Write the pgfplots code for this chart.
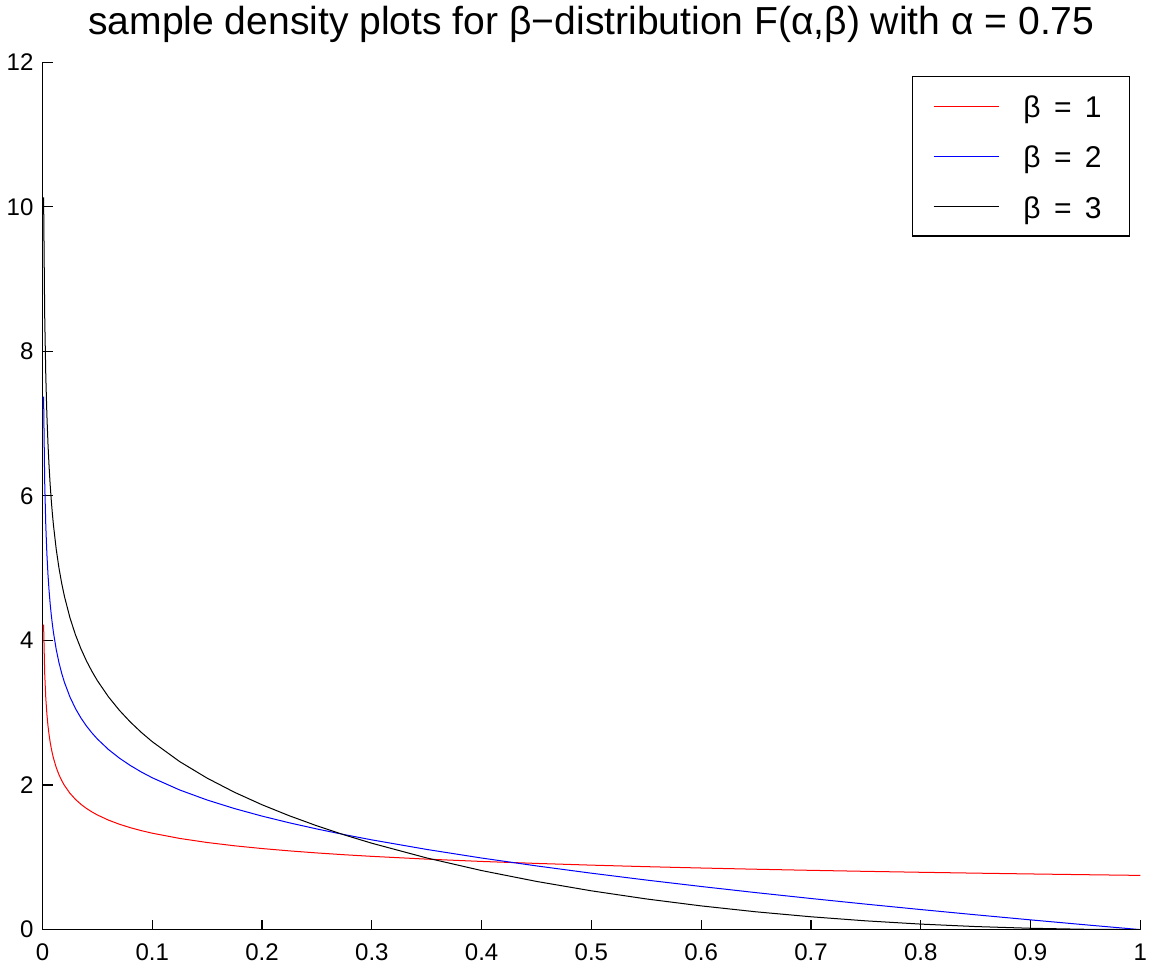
\documentclass[border=0pt]{standalone}
\usepackage{pgfplots}
\pgfplotsset{compat=1.18}
\usepackage{fontspec}
\setmainfont{Liberation Sans}
\definecolor{mred}{rgb}{1,0,0}
\definecolor{mblue}{rgb}{0,0,1}
\definecolor{mblack}{rgb}{0,0,0}
\begin{document}
\begin{tikzpicture}
\begin{axis}[
  width=548pt, height=433pt, scale only axis,
  xmin=0, xmax=1, ymin=0, ymax=12,
  axis x line*=bottom, axis y line*=left,
  axis line style={line width=0.6pt},
  tick align=inside, major tick length=5pt,
  tick style={line width=0.6pt, black},
  xtick={0,0.1,...,1}, ytick={0,2,...,12},
  xticklabels={0,0.1,0.2,0.3,0.4,0.5,0.6,0.7,0.8,0.9,1},
  /pgf/number format/assume math mode=true,
  tick label style={font=\fontsize{12}{14}\selectfont},
  xticklabel style={inner sep=1pt, yshift=-6pt},
  yticklabel style={xshift=-1pt},
  title={sample density plots for β−distribution F(α,β) with α = 0.75},
  title style={font=\fontsize{19.5}{22}\selectfont, yshift=0pt},
  legend style={at={(1,1)}, anchor=north east, xshift=-5pt, yshift=-7pt,
    font=\fontsize{15}{17}\selectfont, line width=0.6pt,
    row sep=7.5pt, inner xsep=5.5pt, inner ysep=6pt,
    nodes={text height=12.5pt, text depth=1pt, inner sep=2pt}},
  legend cell align=left,
  legend image code/.code={\path (-5pt,0pt); \draw[#1, line width=0.5pt] (0pt,0pt) -- (32.5pt,0pt); \path (42.5pt,0pt);},
  every axis plot/.append style={line width=0.5pt},
]
\addplot[color=mred] coordinates {
(0.001,4.2176)(0.002,3.5465)(0.003,3.2047)(0.004,2.9823)(0.005,2.8205)(0.006,2.6948)
(0.007,2.5929)(0.008,2.5078)(0.009,2.4350)(0.01,2.3717)(0.0125,2.2430)
(0.015,2.1431)(0.0175,2.0621)(0.02,1.9943)(0.025,1.8862)(0.03,1.8021)(0.035,1.7340)
(0.04,1.6771)(0.045,1.6284)(0.05,1.5860)(0.06,1.5154)(0.07,1.4581)(0.08,1.4102)(0.09,1.3693)
(0.1,1.3337)(0.125,1.2614)(0.15,1.2052)(0.175,1.1596)(0.2,1.1215)(0.225,1.0890)(0.25,1.0607)
(0.275,1.0357)(0.3,1.0134)(0.35,0.9751)
(0.4,0.9431)(0.45,0.9158)(0.5,0.8919)(0.55,0.8709)(0.6,0.8522)(0.65,0.8353)
(0.7,0.8200)(0.75,0.8060)(0.8,0.7931)(0.85,0.7811)(0.9,0.7700)(0.95,0.7597)(1.0,0.75)
};
\addlegendentry{β\hspace{2.5pt} =\hspace{2.5pt} 1\rule{6.5pt}{0pt}}
\addplot[color=mblue] coordinates {
(0.001,7.3733)(0.002,6.1940)(0.003,5.5914)(0.004,5.1981)(0.005,4.9111)(0.006,4.6876)
(0.007,4.5058)(0.008,4.3535)(0.009,4.2229)(0.01,4.1090)(0.0125,3.8762)
(0.015,3.6940)(0.0175,3.5454)(0.02,3.4203)(0.025,3.2183)(0.03,3.0591)(0.035,2.9283)
(0.04,2.8175)(0.045,2.7215)(0.05,2.6368)(0.06,2.4928)(0.07,2.3730)(0.08,2.2705)(0.09,2.1805)
(0.1,2.1006)(0.125,1.9315)(0.15,1.7927)(0.175,1.6742)(0.2,1.5701)(0.225,1.4770)(0.25,1.3921)
(0.275,1.3140)(0.3,1.2414)(0.35,1.1092)
(0.4,0.9902)(0.45,0.8814)(0.5,0.7804)(0.55,0.6858)(0.6,0.5965)(0.65,0.5116)
(0.7,0.4305)(0.75,0.3526)(0.8,0.2776)(0.85,0.2050)(0.9,0.1348)(0.95,0.0665)(1.0,0)
};
\addlegendentry{β\hspace{2.5pt} =\hspace{2.5pt} 2\rule{6.5pt}{0pt}}
\addplot[color=mblack] coordinates {
(0.001,10.1282)(0.002,8.4998)(0.003,7.6651)(0.004,7.1189)(0.005,6.7190)(0.006,6.4069)
(0.007,6.1522)(0.008,5.9382)(0.009,5.7543)(0.01,5.5934)(0.0125,5.2632)
(0.015,5.0033)(0.0175,4.7897)(0.02,4.6088)(0.025,4.3145)(0.03,4.0800)(0.035,3.8855)
(0.04,3.7191)(0.045,3.5737)(0.05,3.4443)(0.06,3.2220)(0.07,3.0345)(0.08,2.8722)(0.09,2.7284)
(0.1,2.5995)(0.125,2.3238)(0.15,2.0952)(0.175,1.8991)(0.2,1.7271)(0.225,1.5739)(0.25,1.4356)
(0.275,1.3099)(0.3,1.1949)(0.35,0.9913)
(0.4,0.8169)(0.45,0.6666)(0.5,0.5365)(0.55,0.4244)(0.6,0.3281)(0.65,0.2462)
(0.7,0.1776)(0.75,0.1212)(0.8,0.0763)(0.85,0.0423)(0.9,0.0185)(0.95,0.0046)(1.0,0)
};
\addlegendentry{β\hspace{2.5pt} =\hspace{2.5pt} 3\rule{6.5pt}{0pt}}
\end{axis}
\end{tikzpicture}
\end{document}
